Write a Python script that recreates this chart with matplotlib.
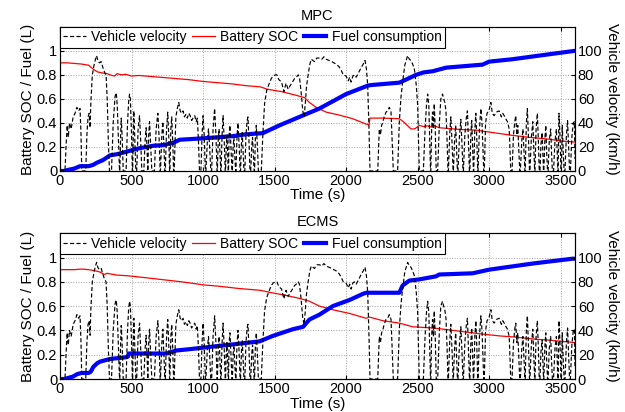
import matplotlib
matplotlib.use("Agg")
import matplotlib.pyplot as plt

plt.rcParams['font.family'] = ['Liberation Sans', 'DejaVu Sans']
plt.rcParams['font.size'] = 10

# vehicle velocity (km/h) (same cycle in both panels)
vel_t = [0, 35, 42, 50, 58, 66, 78, 92, 105, 118, 130, 140, 147, 152, 180, 188, 196, 204, 210, 216,
         226, 238, 248, 256, 264, 275, 288, 300, 312, 322, 330, 338, 346,
         360, 372, 385, 393, 400, 410, 416, 418, 424, 428, 434, 442, 462, 472, 480, 486, 492, 500, 506,
         508, 513, 516, 522, 530, 536, 546, 556, 564, 572, 586, 595, 602, 608, 614, 620, 626, 634, 642,
         660, 672, 684, 692, 700, 702, 712, 719, 726, 733, 736, 745, 753, 760, 766, 768, 775, 781, 788,
         794, 798, 810, 820, 830, 840, 850, 860, 870, 880, 890, 900, 910, 920, 930, 942, 952, 960, 968,
         975,
         985, 993, 1000, 1008, 1016, 1020, 1030, 1038, 1046, 1054, 1060, 1070, 1081, 1090, 1098, 1100,
         1106, 1112, 1118, 1124, 1126, 1133, 1140, 1148, 1155, 1157, 1162, 1167, 1172, 1176, 1178, 1182,
         1188, 1195, 1202, 1205, 1210, 1216, 1222, 1228, 1230, 1237, 1244, 1252, 1259, 1262, 1268, 1274,
         1280, 1286, 1292, 1300, 1308, 1314, 1321, 1328, 1333, 1340, 1346, 1352, 1357, 1360, 1366, 1372,
         1380, 1387, 1407,
         1418, 1430, 1445, 1460, 1477, 1490, 1505, 1516, 1530, 1549, 1565, 1580, 1595, 1609, 1625, 1640,
         1651, 1665, 1674, 1686, 1697, 1706, 1714, 1723, 1732, 1745, 1756, 1768, 1779, 1795, 1814, 1830,
         1845, 1860, 1880, 1900, 1914, 1930, 1949, 1965, 1980, 2000, 2015, 2025, 2035, 2047, 2058, 2070,
         2088, 2105, 2120, 2132, 2142, 2151, 2160, 2167,
         2221, 2232, 2240, 2248, 2256, 2266, 2279, 2290, 2302, 2314, 2322, 2330, 2360, 2372, 2384, 2395,
         2410, 2430, 2442, 2453, 2465, 2477, 2490, 2500, 2506, 2512,
         2540, 2552, 2562, 2570, 2578, 2586, 2590, 2592, 2598, 2604, 2610, 2616, 2623, 2630, 2640, 2652,
         2662, 2674, 2682, 2690, 2698, 2706, 2712, 2715, 2724, 2732, 2740, 2748, 2750, 2758, 2766, 2772,
         2778, 2782, 2792, 2802, 2810, 2817, 2820, 2830, 2840, 2848, 2855, 2862, 2865, 2872, 2878, 2884,
         2890, 2892, 2900, 2907, 2914, 2920, 2922, 2932, 2942, 2950, 2956, 2962, 2966, 2975, 2985, 2998,
         3012, 3022, 3035, 3050, 3070, 3085, 3095, 3105, 3118, 3128, 3140, 3146, 3151,
         3160, 3170, 3180, 3186, 3193, 3200, 3208, 3214, 3218, 3228, 3236, 3244, 3250, 3252, 3260, 3267,
         3274, 3282, 3285, 3295, 3305, 3312, 3318, 3320, 3328, 3337, 3344, 3350, 3355, 3362, 3370, 3376,
         3380, 3382, 3390, 3396, 3402, 3408, 3412, 3420, 3430, 3436, 3442, 3450, 3460, 3470, 3476, 3480,
         3482, 3488, 3495, 3502, 3505, 3511, 3518, 3524, 3530, 3540, 3548, 3555, 3562, 3568, 3578, 3588,
         3596, 3600]
vel_kmh = [0, 0, 20, 38, 28, 40, 35, 45, 48, 53, 50, 52, 30, 0, 0, 30, 45, 48, 36, 58,
           80, 88, 93, 96, 92, 90, 91, 86, 82, 80, 60, 25, 0,
           0, 40, 62, 65, 55, 20, 0, 0, 30, 44, 30, 0, 0, 40, 58, 64, 60, 30, 0,
           0, 35, 50, 30, 0, 0, 35, 46, 25, 0, 0, 25, 36, 20, 0, 30, 41, 20, 0,
           0, 35, 48, 30, 0, 0, 30, 41, 20, 0, 0, 35, 49, 30, 0, 0, 35, 45, 25,
           0, 0, 45, 52, 57, 50, 48, 50, 45, 47, 44, 48, 46, 42, 44, 46, 41, 44, 25,
           0,
           0, 30, 46, 30, 0, 0, 25, 35, 20, 0, 0, 35, 52, 30, 0, 0,
           25, 35, 15, 0, 0, 30, 46, 25, 0, 0, 20, 30, 15, 0, 0, 30,
           38, 20, 0, 0, 20, 28, 12, 0, 0, 28, 40, 22, 0, 0, 22, 32,
           15, 0, 0, 30, 42, 45, 25, 0, 0, 20, 28, 12, 0, 0, 28, 38,
           20, 0, 0,
           30, 56, 67, 72, 77, 79, 80, 80, 76, 74, 66, 73, 68, 71, 74, 77,
           78, 80, 78, 65, 50, 45, 55, 70, 78, 88, 93, 92, 91, 94, 94, 93,
           95, 93, 92, 91, 90, 89, 87, 84, 80, 79, 75, 78, 74, 79, 80, 78,
           82, 86, 89, 92, 85, 71, 35, 0,
           0, 35, 30, 38, 40, 45, 49, 50, 53, 49, 25, 0, 0, 41, 62, 74,
           88, 96, 93, 92, 89, 85, 72, 55, 25, 0,
           0, 35, 55, 64, 55, 20, 0, 0, 35, 49, 35, 56, 35, 0, 0, 40,
           60, 64, 60, 57, 50, 25, 0, 0, 30, 45, 25, 0, 0, 25, 38, 20,
           0, 0, 28, 43, 22, 0, 0, 30, 44, 50, 25, 0, 0, 30, 42, 20,
           0, 0, 35, 48, 25, 0, 0, 35, 52, 40, 20, 0, 0, 40, 48, 50,
           57, 48, 46, 49, 50, 45, 48, 46, 43, 41, 35, 15, 0,
           0, 30, 42, 46, 30, 38, 15, 0, 0, 25, 35, 15, 0, 0, 40, 52,
           30, 0, 0, 28, 41, 20, 0, 0, 35, 48, 25, 0, 0, 22, 32, 12,
           0, 0, 28, 38, 15, 0, 0, 25, 35, 15, 0, 0, 25, 35, 15, 0,
           0, 48, 30, 0, 0, 38, 15, 0, 0, 30, 42, 20, 0, 0, 28, 40,
           41, 10]

# MPC
mpc_soc_t = [0, 50, 150, 200, 230, 260, 300, 330, 350, 380, 400, 430, 460, 500, 550, 600, 700, 800,
             900, 1000, 1100, 1200, 1300, 1400, 1450, 1550, 1650, 1710, 1744, 1790, 1860, 1953, 2046,
             2140, 2160, 2167, 2250, 2372, 2400, 2454, 2480, 2512, 2540, 2570, 2600, 2620, 2650, 2700,
             2800, 2907, 3023, 3140, 3279, 3418, 3500, 3600]
mpc_soc = [0.90, 0.90, 0.89, 0.88, 0.85, 0.825, 0.815, 0.81, 0.80, 0.79, 0.81, 0.80, 0.805, 0.79,
           0.795, 0.79, 0.78, 0.77, 0.76, 0.745, 0.735, 0.725, 0.71, 0.70, 0.68, 0.66, 0.63, 0.61,
           0.57, 0.53, 0.49, 0.465, 0.435, 0.39, 0.385, 0.44, 0.44, 0.435, 0.41, 0.35, 0.35, 0.38,
           0.37, 0.375, 0.365, 0.375, 0.36, 0.355, 0.345, 0.34, 0.32, 0.30, 0.28, 0.265, 0.25, 0.24]
mpc_fuel_t = [0, 30, 60, 100, 140, 200, 230, 260, 300, 349, 400, 465, 520, 558, 651, 720, 791, 837,
              977, 1100, 1209, 1300, 1418, 1535, 1674, 1814, 2000, 2151, 2174, 2372, 2490, 2540, 2605,
              2700, 2954, 3000, 3163, 3349, 3600]
mpc_fuel = [0.0, 0.0, 0.01, 0.02, 0.04, 0.04, 0.05, 0.07, 0.09, 0.13, 0.14, 0.16, 0.18, 0.19, 0.21,
            0.215, 0.234, 0.26, 0.27, 0.28, 0.29, 0.305, 0.315, 0.38, 0.45, 0.52, 0.64, 0.71, 0.715,
            0.735, 0.80, 0.82, 0.83, 0.86, 0.885, 0.91, 0.93, 0.96, 1.0]

# ECMS
ecms_soc_t = [0, 100, 150, 200, 250, 280, 310, 330, 350, 400, 470, 550, 700, 850, 1000, 1100, 1250,
              1400, 1480, 1550, 1650, 1700, 1744, 1814, 1907, 2023, 2140, 2163, 2256, 2372, 2465, 2605,
              2721, 2837, 2954, 3070, 3186, 3302, 3418, 3600]
ecms_soc = [0.90, 0.90, 0.905, 0.90, 0.89, 0.88, 0.86, 0.87, 0.865, 0.855, 0.85, 0.84, 0.82, 0.80,
            0.775, 0.765, 0.745, 0.73, 0.71, 0.695, 0.67, 0.655, 0.64, 0.60, 0.57, 0.54, 0.50, 0.51,
            0.48, 0.46, 0.43, 0.42, 0.405, 0.386, 0.37, 0.355, 0.345, 0.33, 0.32, 0.30]
ecms_fuel_t = [0, 30, 60, 90, 120, 150, 200, 215, 233, 260, 279, 349, 465, 475, 480, 744, 814, 900,
               977, 1209, 1395, 1488, 1628, 1700, 1721, 1744, 1814, 1907, 2023, 2116, 2140, 2372, 2395,
               2442, 2512, 2628, 2651, 2884, 3000, 3302, 3581, 3600]
ecms_fuel = [0.0, 0.0, 0.01, 0.02, 0.04, 0.05, 0.05, 0.06, 0.10, 0.13, 0.143, 0.165, 0.18, 0.185,
             0.21, 0.21, 0.235, 0.245, 0.255, 0.285, 0.31, 0.355, 0.41, 0.43, 0.46, 0.49, 0.53, 0.60,
             0.65, 0.70, 0.71, 0.71, 0.77, 0.81, 0.82, 0.845, 0.86, 0.87, 0.90, 0.95, 0.99, 0.99]

panels = [("MPC", mpc_soc_t, mpc_soc, mpc_fuel_t, mpc_fuel),
          ("ECMS", ecms_soc_t, ecms_soc, ecms_fuel_t, ecms_fuel)]

fig = plt.figure(figsize=(6.25, 4.12), dpi=100)
rects = [[0.096, 0.585, 0.824, 0.35], [0.096, 0.080, 0.824, 0.354]]

for (name, st, soc, ft, fuel), rect in zip(panels, rects):
    ax1 = fig.add_axes(rect)
    ax2 = ax1.twinx()
    l2, = ax1.plot(st, soc, "-", color="red", lw=0.9, label="Battery SOC")
    l3, = ax1.plot(ft, fuel, "-", color="blue", lw=3, label="Fuel consumption")
    l1, = ax2.plot(vel_t, vel_kmh, "--", color="black", lw=0.85, dashes=(3.5, 2),
                   label="Vehicle velocity")
    ax1.set_xlim(0, 3600)
    ax1.set_ylim(0, 1.2)
    ax2.set_ylim(0, 120)
    ax1.set_xticks(range(0, 3600, 500))
    ax1.set_yticks([0, 0.2, 0.4, 0.6, 0.8, 1.0])
    ax1.set_yticklabels(["0", "0.2", "0.4", "0.6", "0.8", "1"])
    ax2.set_yticks(range(0, 101, 20))
    ax1.grid(True, ls=":", color="#a0a0a0", lw=0.7)
    ax1.tick_params(direction="in", top=True, right=False, length=3, pad=2, labelsize=10.5)
    ax2.tick_params(direction="in", length=3, pad=2, labelsize=10.5)
    for a in (ax1, ax2):
        for s in a.spines.values():
            s.set_linewidth(0.8)
    ax1.set_title(name, fontsize=10.5, pad=5)
    ax1.set_xlabel("Time (s)", fontsize=11, labelpad=0.5)
    ax1.set_ylabel("Battery SOC / Fuel (L)", fontsize=11, labelpad=1)
    ax2.set_ylabel("Vehicle velocity (km/h)", fontsize=11, rotation=-90, labelpad=12)
    leg = ax2.legend(handles=[l1, l2, l3], loc="upper left", ncol=3, borderaxespad=0,
                     fancybox=False, framealpha=1, edgecolor="black", handlelength=1.6,
                     handletextpad=0.4, columnspacing=0.4, borderpad=0.25, fontsize=10)
    leg.get_frame().set_linewidth(0.8)

fig.savefig("out.png", dpi=100)
